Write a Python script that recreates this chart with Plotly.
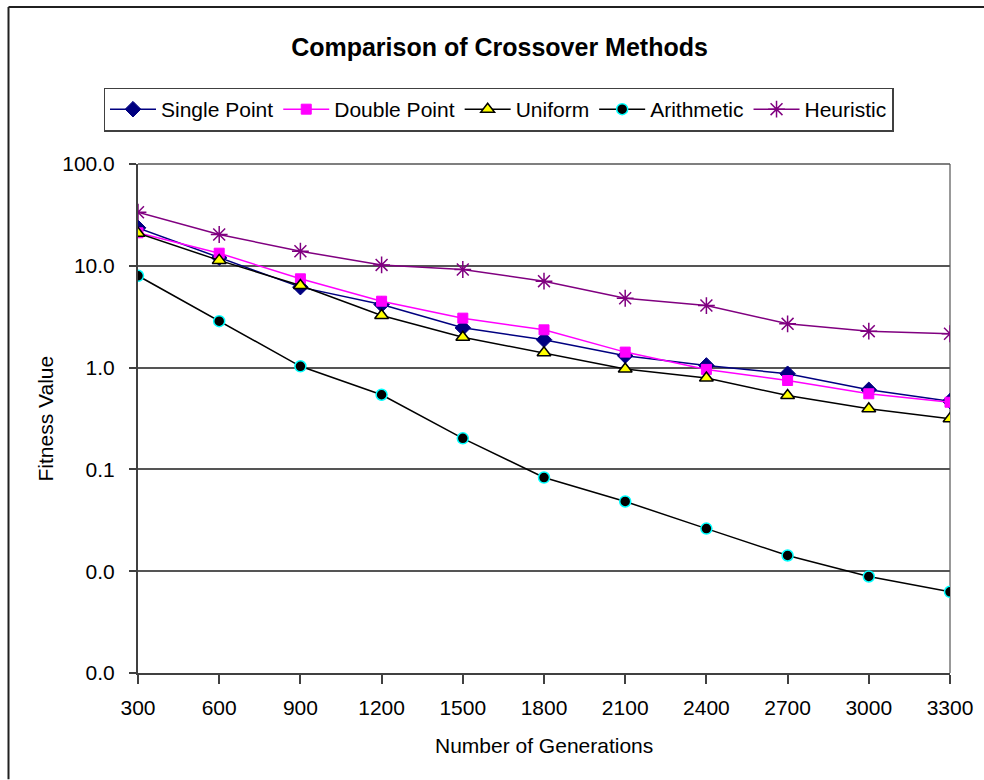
import plotly.graph_objects as go

generations = [300, 600, 900, 1200, 1500, 1800, 2100, 2400, 2700, 3000, 3300]
single_point = [23.6, 12.0, 6.17, 4.17, 2.46, 1.88, 1.31, 1.05, 0.87, 0.605, 0.468]
double_point = [21.1, 13.3, 7.45, 4.49, 3.06, 2.35, 1.42, 0.96, 0.747, 0.553, 0.457]
uniform = [20.9, 11.3, 6.4, 3.25, 1.99, 1.40, 0.97, 0.79, 0.532, 0.394, 0.314]
arithmetic = [7.98, 2.86, 1.03, 0.541, 0.202, 0.0832, 0.0484, 0.0262, 0.01426, 0.00887, 0.00628]
heuristic = [33.6, 20.3, 13.9, 10.2, 9.2, 7.06, 4.8, 4.07, 2.69, 2.28, 2.15]

y_tickvals = [0.001, 0.01, 0.1, 1, 10, 100]
y_ticktext = ["0.0", "0.0", "0.1", "1.0", "10.0", "100.0"]
x_tickvals = generations

FONT = "Liberation Sans, Arial, sans-serif"

fig = go.Figure()
fig.add_trace(go.Scatter(x=generations, y=single_point, name="Single Point", mode="lines+markers",
                         line=dict(color="#000080", width=1.5),
                         marker=dict(symbol="diamond", size=12, color="#000080",
                                     line=dict(color="#000080", width=1))))
fig.add_trace(go.Scatter(x=generations, y=double_point, name="Double Point", mode="lines+markers",
                         line=dict(color="#FF00FF", width=1.5),
                         marker=dict(symbol="square", size=10, color="#FF00FF",
                                     line=dict(color="#FF00FF", width=1))))
fig.add_trace(go.Scatter(x=generations, y=uniform, name="Uniform", mode="lines+markers",
                         line=dict(color="#000000", width=1.5),
                         marker=dict(symbol="triangle-up", size=12, color="#FFFF00",
                                     line=dict(color="#000000", width=1.5))))
fig.add_trace(go.Scatter(x=generations, y=arithmetic, name="Arithmetic", mode="lines+markers",
                         line=dict(color="#000000", width=1.5),
                         marker=dict(symbol="circle", size=11, color="#000000",
                                     line=dict(color="#00FFFF", width=1.5))))
fig.add_trace(go.Scatter(x=generations, y=heuristic, name="Heuristic", mode="lines+markers",
                         line=dict(color="#800080", width=1.5),
                         marker=dict(symbol="asterisk-open", size=14, color="#800080",
                                     line=dict(color="#800080", width=1.5))))

L, R, T, B = 138, 34, 163.5, 107.3
W, H = 984, 780
pw = W - L - R
ph = H - T - B

def px_to_paper_x(px):
    return (px - L) / pw

def px_to_paper_y(py):
    return (H - B - py) / ph

fig.update_layout(
    width=W, height=H,
    margin=dict(l=L, r=R, t=T, b=B, pad=0),
    paper_bgcolor="white", plot_bgcolor="white",
    font=dict(family=FONT, size=21, color="black"),
    title=dict(text="<b>Comparison of Crossover Methods</b>", x=499.5 / W, xanchor="center",
               y=1 - 47 / H, yanchor="middle", font=dict(size=25, family=FONT, color="black")),
    showlegend=True,
    legend=dict(orientation="h", x=px_to_paper_x(498.5), xanchor="center",
                y=px_to_paper_y(87), yanchor="top",
                bordercolor="#404040", borderwidth=1.5, bgcolor="white",
                font=dict(size=21, family=FONT, color="black"),
                itemwidth=46, tracegroupgap=0),
    xaxis=dict(type="linear", range=[300, 3300], tickvals=x_tickvals,
               ticks="outside", ticklen=9, tickwidth=1.5, tickcolor="#404040",
               showline=True, linecolor="#404040", linewidth=2,
               showgrid=False, zeroline=False,
               tickfont=dict(size=21, family=FONT, color="black"),
               ticklabelstandoff=6),
    yaxis=dict(type="log", range=[-3, 2], tickvals=y_tickvals, ticktext=y_ticktext,
               ticks="outside", ticklen=7, tickwidth=1.5, tickcolor="#404040",
               showline=True, linecolor="#404040", linewidth=2,
               showgrid=True, gridcolor="#555555", gridwidth=1.5, zeroline=False,
               tickfont=dict(size=21, family=FONT, color="black"),
               ticklabelstandoff=10),
    annotations=[
        dict(text="Number of Generations", xref="paper", yref="paper",
             x=0.5, y=px_to_paper_y(745), xanchor="center", yanchor="middle",
             showarrow=False, font=dict(size=21, family=FONT, color="black")),
        dict(text="Fitness Value", xref="paper", yref="paper",
             x=px_to_paper_x(45), y=0.5, xanchor="center", yanchor="middle",
             textangle=-90, showarrow=False, font=dict(size=21, family=FONT, color="black")),
    ],
    shapes=[
        dict(type="line", xref="paper", yref="paper", x0=1, x1=1, y0=0, y1=1,
             line=dict(color="#999999", width=2), layer="below"),
        dict(type="line", xref="paper", yref="paper", x0=0, x1=1, y0=1, y1=1,
             line=dict(color="#555555", width=1.5), layer="below"),
        dict(type="line", xref="paper", yref="paper",
             x0=px_to_paper_x(8.5), x1=px_to_paper_x(8.5),
             y0=px_to_paper_y(6.5), y1=px_to_paper_y(779),
             line=dict(color="#202020", width=2), layer="above"),
        dict(type="line", xref="paper", yref="paper",
             x0=px_to_paper_x(8.5), x1=px_to_paper_x(984),
             y0=px_to_paper_y(6.5), y1=px_to_paper_y(6.5),
             line=dict(color="#202020", width=2), layer="above"),
    ],
)

fig.write_html("out.html")
